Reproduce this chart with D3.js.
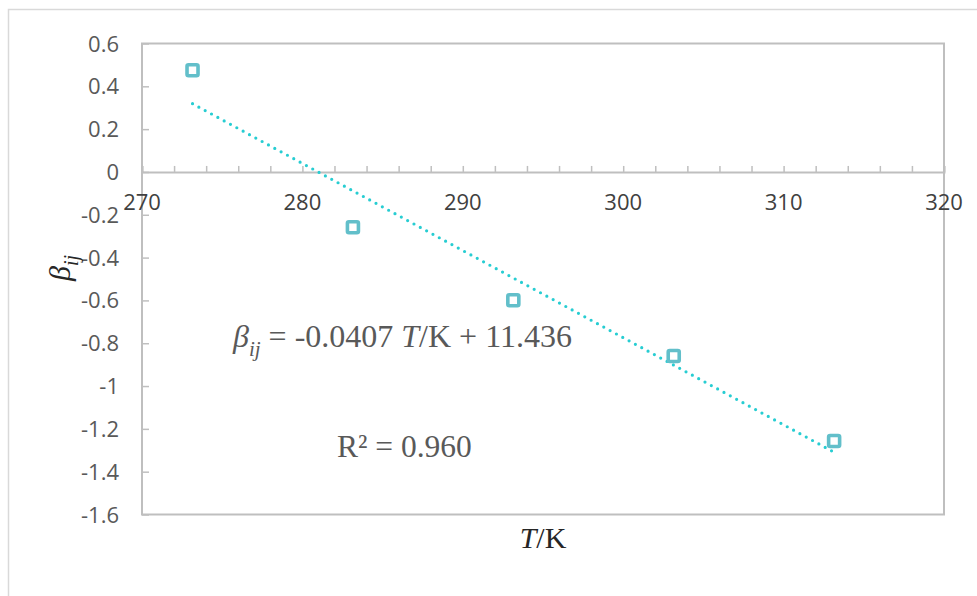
<!DOCTYPE html>
<html><head><meta charset="utf-8">
<script src="https://cdn.jsdelivr.net/npm/d3@7"></script>
<style>body{margin:0;background:#fff}svg{display:block}</style>
</head><body>
<script>
// Data
const temperatures = [273.15, 283.15, 293.15, 303.15, 313.15];
const betaValues = [0.475, -0.258, -0.599, -0.860, -1.257];
const fitSlope = -0.0407;
const fitIntercept = 11.436;
const xTicks = [270, 280, 290, 300, 310, 320];
const yTicks = [0.6, 0.4, 0.2, 0, -0.2, -0.4, -0.6, -0.8, -1, -1.2, -1.4, -1.6];

const W = 977, H = 596;
const svg = d3.select("body").append("svg").attr("width", W).attr("height", H);

// outer chart border
svg.append("rect").attr("x", 8.5).attr("y", 9.5).attr("width", 1200).attr("height", 1200)
  .attr("fill", "none").attr("stroke", "#d9d9d9").attr("stroke-width", 1.5);

const pLeft = 142, pRight = 944, pTop = 43.5, pBottom = 514.5;
const x = d3.scaleLinear().domain([270, 320]).range([pLeft, pRight]);
const y = d3.scaleLinear().domain([-1.6, 0.6]).range([pBottom, pTop]);

// plot area border
svg.append("rect").attr("x", pLeft).attr("y", pTop).attr("width", pRight - pLeft).attr("height", pBottom - pTop)
  .attr("fill", "none").attr("stroke", "#bfbfbf").attr("stroke-width", 2);

// X axis at y=0
const xAxis = d3.axisTop(x).tickValues(d3.range(270, 320.1, 2)).tickSize(6).tickFormat("");
const gx = svg.append("g").attr("transform", `translate(0,${y(0)})`).call(xAxis);
gx.select(".domain").attr("stroke", "#bfbfbf").attr("stroke-width", 2);
gx.selectAll(".tick line").attr("stroke", "#bfbfbf").attr("stroke-width", 1.5);

svg.append("g").selectAll("text").data(xTicks).join("text")
  .attr("x", d => x(d)).attr("y", y(0) + 38)
  .attr("text-anchor", "middle")
  .attr("font-family", "Open Sans").attr("font-size", 22).attr("fill", "#404040")
  .text(d => d);

// Y axis
const yAxis = d3.axisRight(y).tickValues(yTicks).tickSize(7).tickFormat("");
const gy = svg.append("g").attr("transform", `translate(${pLeft},0)`).call(yAxis);
gy.select(".domain").remove();
gy.selectAll(".tick line").attr("stroke", "#bfbfbf").attr("stroke-width", 1.5);

svg.append("g").selectAll("text").data(yTicks).join("text")
  .attr("x", 119).attr("y", d => y(d) + 8)
  .attr("text-anchor", "end")
  .attr("font-family", "Open Sans").attr("font-size", 22).attr("fill", "#595959")
  .text(d => String(Math.round(d * 10) / 10));

// Trendline
const tMin = d3.min(temperatures), tMax = d3.max(temperatures);
svg.append("line")
  .attr("x1", x(tMin)).attr("y1", y(fitSlope * tMin + fitIntercept))
  .attr("x2", x(tMax)).attr("y2", y(fitSlope * tMax + fitIntercept))
  .attr("stroke", "#27cdd2").attr("stroke-width", 3.2)
  .attr("stroke-linecap", "round").attr("stroke-dasharray", "0 7.2");

// Markers
const data = temperatures.map((t, i) => ({t, b: betaValues[i]}));
svg.append("g").selectAll("rect").data(data).join("rect")
  .attr("x", d => x(d.t) - 5.5).attr("y", d => y(d.b) - 5.5)
  .attr("width", 11).attr("height", 11).attr("rx", 1.5)
  .attr("fill", "#fff").attr("stroke", "#62bfca").attr("stroke-width", 3.6);

// Equation
const eq = svg.append("text").attr("x", 233).attr("y", 347)
  .attr("font-family", "Liberation Serif").attr("font-size", 32).attr("fill", "#595959");
eq.append("tspan").attr("font-style", "italic").text("β");
eq.append("tspan").attr("font-style", "italic").attr("font-size", 21).attr("dy", 9).text("ij");
eq.append("tspan").attr("dy", -9).text(" = -0.0407 ");
eq.append("tspan").attr("font-style", "italic").text("T");
eq.append("tspan").text("/K + 11.436");

svg.append("text").attr("x", 337).attr("y", 457)
  .attr("font-family", "Liberation Serif").attr("font-size", 31.5).attr("fill", "#595959")
  .text("R² = 0.960");

// Axis titles
const xt = svg.append("text").attr("x", 543).attr("y", 548).attr("text-anchor", "middle")
  .attr("font-family", "Liberation Serif").attr("font-size", 30).attr("fill", "#262626");
xt.append("tspan").attr("font-style", "italic").text("T");
xt.append("tspan").text("/K");

const yt = svg.append("text").attr("transform", "translate(70,268) rotate(-90)")
  .attr("text-anchor", "middle")
  .attr("font-family", "Liberation Serif").attr("font-size", 30).attr("fill", "#262626");
yt.append("tspan").attr("font-style", "italic").text("β");
yt.append("tspan").attr("font-style", "italic").attr("font-size", 20).attr("dy", 8).text("ij");
</script>
</body></html>
